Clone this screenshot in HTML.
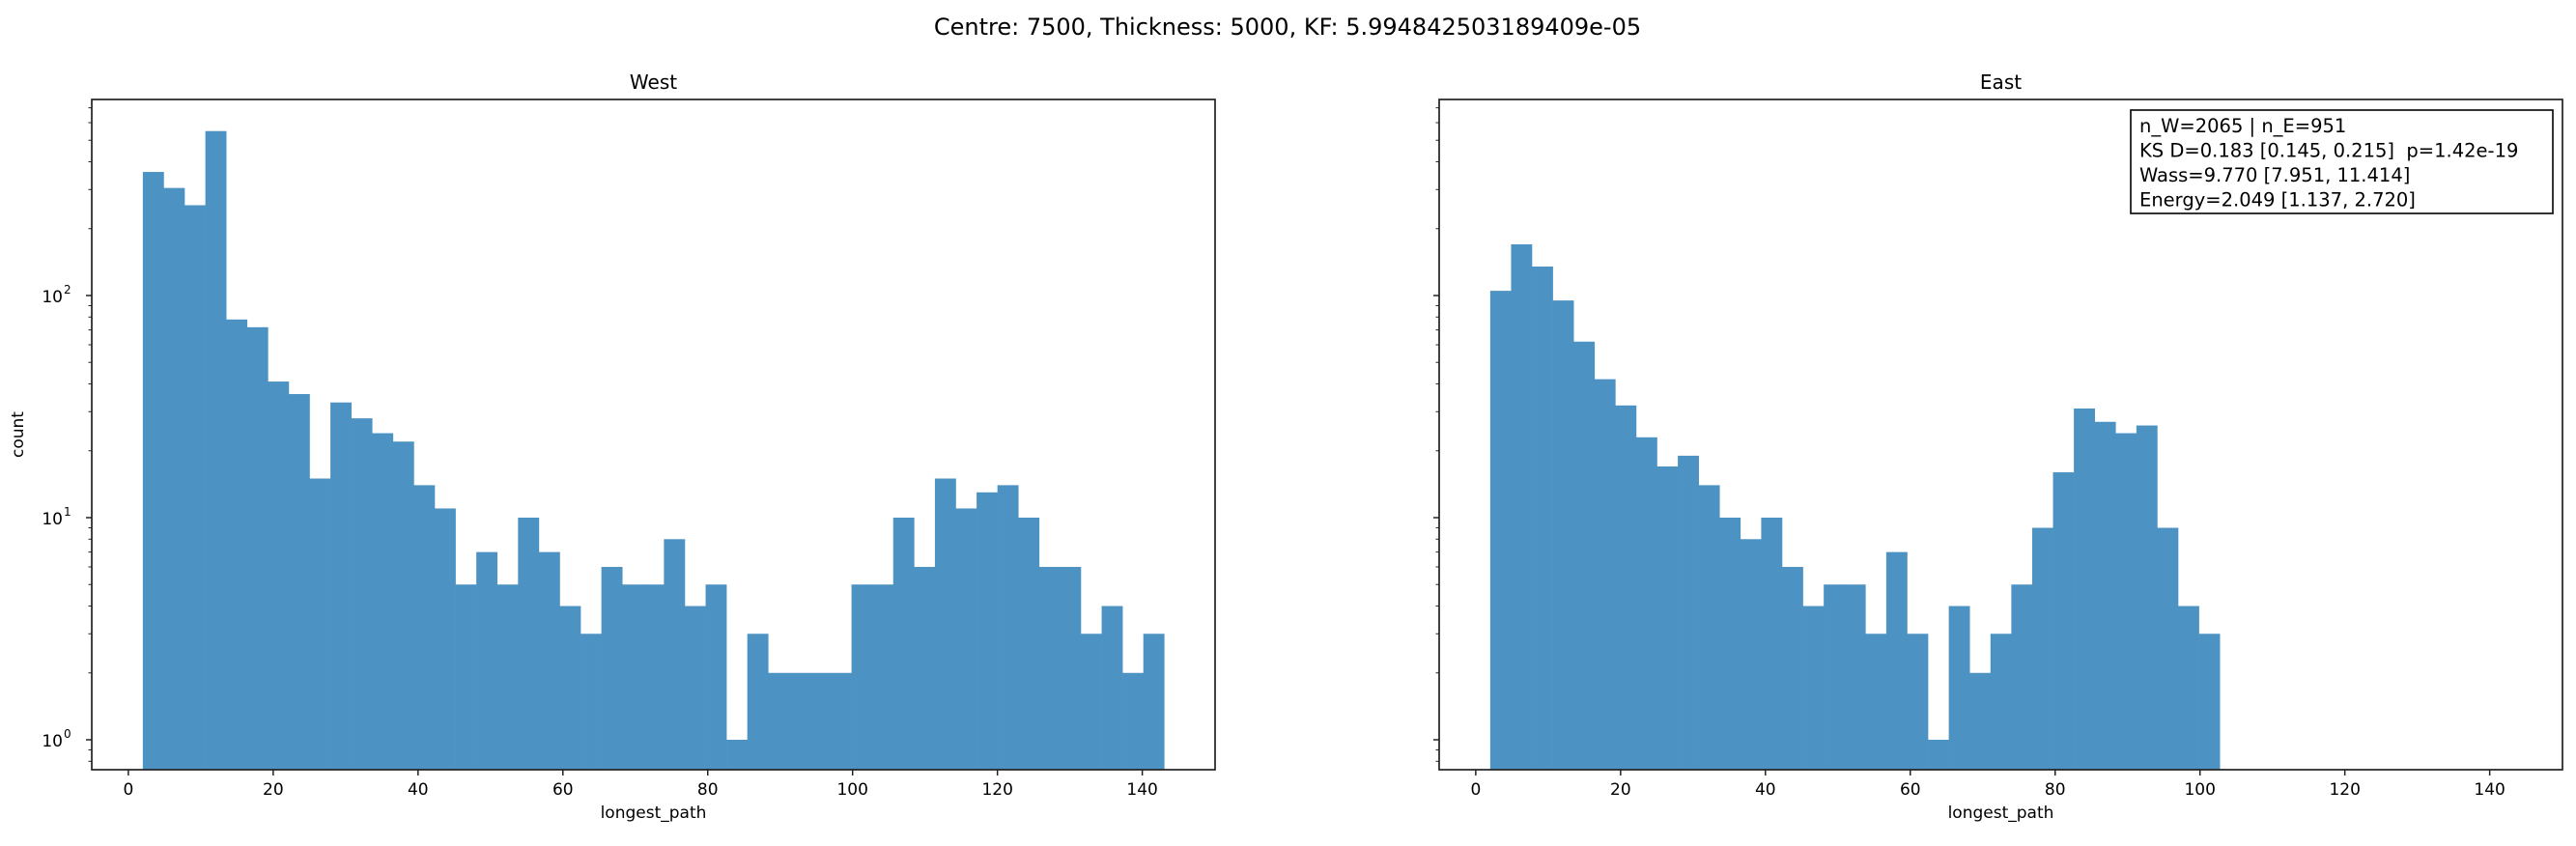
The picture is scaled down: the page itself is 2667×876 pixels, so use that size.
<!DOCTYPE html>
<html><head><meta charset="utf-8"><style>
body{margin:0;background:#fff;}
svg{display:block;font-family:"DejaVu Sans","Liberation Sans",sans-serif;}
</style></head><body>
<svg id="fig" width="2667" height="876" viewBox="0 0 2667 876">
<text x="1333" y="36" text-anchor="middle" font-size="24">Centre: 7500, Thickness: 5000, KF: 5.994842503189409e-05</text>
</svg>
<script>
const binStart = 2;
const binWidth = 2.878;
const westCounts = [360,305,255,550,78,72,41,36,15,33,28,24,22,14,11,5,7,5,10,7,4,3,6,5,5,8,4,5,1,3,2,2,2,2,5,5,10,6,15,11,13,14,10,6,6,3,4,2,3];
const eastCounts = [105,170,135,95,62,42,32,23,17,19,14,10,8,10,6,4,5,5,3,7,3,1,4,2,3,5,9,16,31,27,24,26,9,4,3];
const xTicks = [0,20,40,60,80,100,120,140];
const yMajor = [0,1,2];
const statsLines = ["n_W=2065 | n_E=951","KS D=0.183 [0.145, 0.215]  p=1.42e-19","Wass=9.770 [7.951, 11.414]","Energy=2.049 [1.137, 2.720]"];

const NS="http://www.w3.org/2000/svg";
const svgEl=document.getElementById('fig');
function mk(tag,attrs,parent){const e=document.createElementNS(NS,tag);for(const k in attrs)e.setAttribute(k,attrs[k]);(parent||svgEl).appendChild(e);return e;}
const axTop=103,axBottom=797;
const xmin=-5.05,xmax=150.05;
const yScale=v=>766-230*Math.log10(v);

function panel(left,right,title,counts,showY,name){
  const g=mk('g',{});
  
  
  const xs=v=>left+(v-xmin)/(xmax-xmin)*(right-left);
  const bars=mk('g',{},g);
  
  
  counts.forEach((c,i)=>{
    const x0=xs(binStart+i*binWidth),x1=xs(binStart+(i+1)*binWidth);
    const r=mk('rect',{x:x0,y:yScale(c),width:x1-x0+0.3,height:axBottom-yScale(c),fill:'#4c92c3'},bars);
    
    
  });
  const frame=mk('rect',{x:left,y:axTop,width:right-left,height:axBottom-axTop,fill:'none',stroke:'#222','stroke-width':1.7},g);
  
  
  const t=mk('text',{x:(left+right)/2,y:92,'text-anchor':'middle','font-size':20},g);
  t.textContent=title;
  
  
  xTicks.forEach(v=>{
    mk('line',{x1:xs(v),x2:xs(v),y1:axBottom,y2:axBottom+6,stroke:'#222','stroke-width':1.5},g);
    const l=mk('text',{x:xs(v),y:axBottom+26,'text-anchor':'middle','font-size':17},g);
    l.textContent=v;
    
    
  });
  const xl=mk('text',{x:(left+right)/2,y:axBottom+50,'text-anchor':'middle','font-size':17},g);
  xl.textContent='longest_path';
  
  
  yMajor.forEach(p=>{
    const yy=yScale(Math.pow(10,p));
    mk('line',{x1:left-6,x2:left,y1:yy,y2:yy,stroke:'#222','stroke-width':1.5},g);
    if(showY){
      const l=mk('text',{x:left-30,y:yy+7,'text-anchor':'end','font-size':17},g);
      l.textContent='10';
      
      
      const s=mk('text',{x:left-29,y:yy-2,'font-size':12},g);
      s.textContent=String(p);
    }
  });
  [0.8,0.9,2,3,4,5,6,7,8,9,20,30,40,50,60,70,80,90,200,300,400,500,600,700].forEach(v=>{
    const yy=yScale(v); if(yy<axTop||yy>axBottom)return;
    mk('line',{x1:left-3.5,x2:left,y1:yy,y2:yy,stroke:'#222','stroke-width':1},g);
  });
}
panel(95,1258,'West',westCounts,true,'west');
panel(1490,2653,'East',eastCounts,false,'east');
const yl=mk('text',{x:0,y:0,'text-anchor':'middle','font-size':17,transform:'translate(24,450) rotate(-90)'});
yl.textContent='count';


const box=mk('rect',{x:2206,y:114,width:437,height:107,fill:'#fff',stroke:'#111','stroke-width':1.7});


statsLines.forEach((s,i)=>{
  const t=mk('text',{x:2215,y:137+i*25.5,'font-size':19.5});
  t.textContent=s;
  
  
  t.style.whiteSpace='pre';
});
</script>
</body></html>
